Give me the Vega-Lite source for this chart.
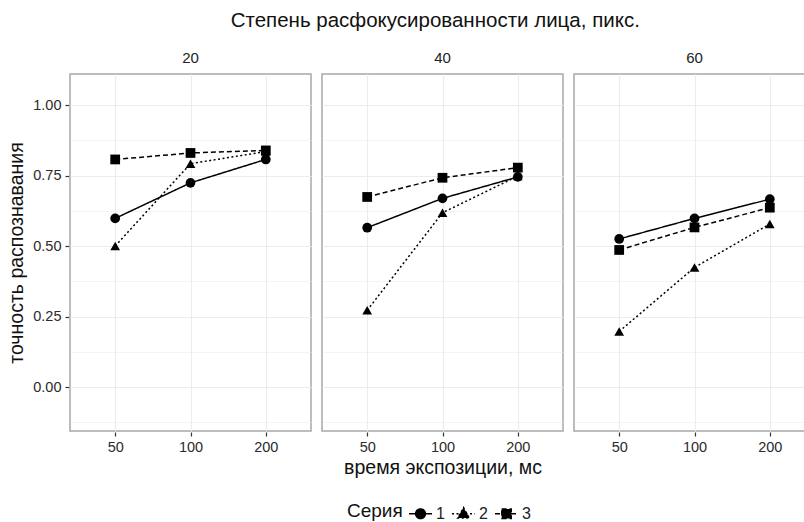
{
  "$schema": "https://vega.github.io/schema/vega-lite/v6.json",
  "padding": {"left": 6, "top": 10, "right": -11, "bottom": 2},
  "title": {"text": "Степень расфокусированности лица, пикс.", "font": "Liberation Sans", "fontSize": 20.5, "fontWeight": "normal", "color": "#111111", "anchor": "middle", "offset": 20, "dx": 24},
  "data": {"values": [
    {"blur": 20, "time": 50, "series": "1", "acc": 0.598},
    {"blur": 20, "time": 100, "series": "1", "acc": 0.724},
    {"blur": 20, "time": 200, "series": "1", "acc": 0.807},
    {"blur": 20, "time": 50, "series": "2", "acc": 0.500},
    {"blur": 20, "time": 100, "series": "2", "acc": 0.792},
    {"blur": 20, "time": 200, "series": "2", "acc": 0.835},
    {"blur": 20, "time": 50, "series": "3", "acc": 0.807},
    {"blur": 20, "time": 100, "series": "3", "acc": 0.830},
    {"blur": 20, "time": 200, "series": "3", "acc": 0.839},
    {"blur": 40, "time": 50, "series": "1", "acc": 0.565},
    {"blur": 40, "time": 100, "series": "1", "acc": 0.669},
    {"blur": 40, "time": 200, "series": "1", "acc": 0.745},
    {"blur": 40, "time": 50, "series": "2", "acc": 0.272},
    {"blur": 40, "time": 100, "series": "2", "acc": 0.618},
    {"blur": 40, "time": 200, "series": "2", "acc": 0.748},
    {"blur": 40, "time": 50, "series": "3", "acc": 0.674},
    {"blur": 40, "time": 100, "series": "3", "acc": 0.742},
    {"blur": 40, "time": 200, "series": "3", "acc": 0.778},
    {"blur": 60, "time": 50, "series": "1", "acc": 0.525},
    {"blur": 60, "time": 100, "series": "1", "acc": 0.598},
    {"blur": 60, "time": 200, "series": "1", "acc": 0.666},
    {"blur": 60, "time": 50, "series": "2", "acc": 0.197},
    {"blur": 60, "time": 100, "series": "2", "acc": 0.424},
    {"blur": 60, "time": 200, "series": "2", "acc": 0.578},
    {"blur": 60, "time": 50, "series": "3", "acc": 0.486},
    {"blur": 60, "time": 100, "series": "3", "acc": 0.566},
    {"blur": 60, "time": 200, "series": "3", "acc": 0.636}
  ]},
  "facet": {"column": {"field": "blur", "type": "ordinal", "header": {"title": "время экспозиции, мс"}}},
  "spacing": 9,
  "spec": {
    "width": 241,
    "height": 357,
    "encoding": {
      "x": {"field": "time", "type": "ordinal", "scale": {"type": "point", "padding": 0.6}, "axis": {"title": null, "labelAngle": 0, "grid": true, "gridWidth": 1.1}},
      "y": {"field": "acc", "type": "quantitative", "scale": {"domain": [-0.156, 1.11], "nice": false, "zero": false},
        "axis": {"title": "точность распознавания", "values": [-0.125, 0, 0.125, 0.25, 0.375, 0.5, 0.625, 0.75, 0.875, 1], "format": ".2f",
          "labelExpr": "abs(datum.value*4 - round(datum.value*4)) < 0.001 ? datum.label : ''",
          "gridWidth": {"condition": {"test": "abs(datum.value*4 - round(datum.value*4)) > 0.001", "value": 0.6}, "value": 1.1},
          "tickOpacity": {"condition": {"test": "abs(datum.value*4 - round(datum.value*4)) > 0.001", "value": 0}, "value": 1}}}
    },
    "layer": [
      {"mark": {"type": "line", "color": "#000000", "strokeWidth": 1.5},
       "encoding": {"strokeDash": {"field": "series", "type": "nominal", "title": "Серия", "scale": {"domain": ["1", "2", "3"], "range": [[1, 0], [2, 2.5], [5, 3]]},
         "legend": {"orient": "none", "legendX": 277, "legendY": 427, "direction": "horizontal", "titleOrient": "left",
           "symbolType": {"expr": "datum.value == '1' ? 'M-1,0H1M-0.43,0A0.43,0.43,0,1,1,0.43,0A0.43,0.43,0,1,1,-0.43,0Z' : datum.value == '2' ? 'M-1,0H1M0,-0.55L0.52,0.38L-0.52,0.38Z' : 'M-1,0H1M-0.42,-0.42H0.42V0.42H-0.42Z'"},
           "symbolFillColor": "#000000", "symbolStrokeColor": "#000000"}}}},
      {"transform": [{"filter": "datum.series == '1'"}], "mark": {"type": "point", "shape": "circle", "filled": true, "color": "#000000", "opacity": 1, "size": 95}},
      {"transform": [{"filter": "datum.series == '2'"}], "mark": {"type": "point", "shape": "triangle-up", "filled": true, "color": "#000000", "opacity": 1, "size": 95}},
      {"transform": [{"filter": "datum.series == '3'"}], "mark": {"type": "point", "shape": "square", "filled": true, "color": "#000000", "opacity": 1, "size": 95}}
    ]
  },
  "config": {
    "font": "Liberation Sans",
    "view": {"stroke": "#a8a8a8", "strokeWidth": 1.5},
    "axis": {"labelFont": "Liberation Sans", "labelFontSize": 14.5, "labelColor": "#2b2b2b", "tickColor": "#333333", "tickSize": 4, "tickWidth": 1.2, "domain": false, "gridColor": "#ececec", "titleFont": "Liberation Sans", "titleFontSize": 19.5, "titleFontWeight": "normal", "titleColor": "#111111", "labelPadding": 4, "titlePadding": 6},
    "header": {"labelFont": "Liberation Sans", "labelFontSize": 15, "labelColor": "#222222", "labelOrient": "top", "titleOrient": "bottom", "titleFont": "Liberation Sans", "titleFontSize": 19.5, "titleFontWeight": "normal", "titleColor": "#111111", "labelPadding": 7, "titlePadding": -5},
    "legend": {"labelFont": "Liberation Sans", "labelFontSize": 16, "labelColor": "#222222", "titleFont": "Liberation Sans", "titleFontSize": 19, "titleFontWeight": "normal", "titleColor": "#111111", "symbolSize": 529, "symbolStrokeWidth": 1.3, "labelOffset": 3, "columnPadding": 4, "padding": 0}
  }
}
